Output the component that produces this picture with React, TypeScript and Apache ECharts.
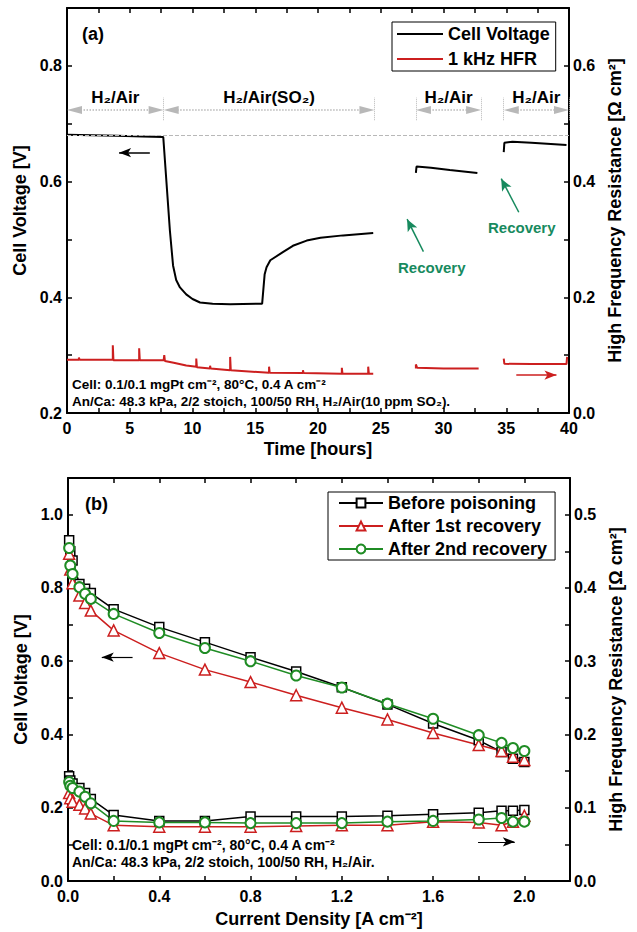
import React, { useEffect, useRef } from 'react';
import * as echarts from 'echarts';

const FONT = '"Liberation Sans", Arial, Helvetica, sans-serif';
const BLACK = '#000000';
const RED = '#cc1f1f';
const GREEN = '#1f8c24';
const ARROW_GREEN = '#178a5e';
const GRAY = '#b8b8b8';

// ---------- Panel (a): time series ----------
const voltageSeg1: [number, number][] = [
  [0, 0.681], [2, 0.68], [4, 0.679], [6, 0.678], [7.67, 0.677], [8.2, 0.515], [8.45, 0.455],
  [8.7, 0.43], [9.0, 0.417], [9.5, 0.405], [10, 0.397], [10.6, 0.391], [11.6, 0.389],
  [13, 0.388], [15.55, 0.389], [15.75, 0.44], [15.9, 0.452], [16.2, 0.464], [17.2, 0.478],
  [18, 0.489], [19.1, 0.498], [20.2, 0.503], [22, 0.507], [24.4, 0.511],
];
const voltageSeg2: [number, number][] = [
  [27.8, 0.615], [27.85, 0.626], [29, 0.624], [30.5, 0.62], [32.7, 0.615],
];
const voltageSeg3: [number, number][] = [
  [34.8, 0.651], [34.85, 0.667], [35.5, 0.669], [37, 0.667], [39.8, 0.663],
];
const hfrSeg1: [number, number][] = [
  [0, 0.092], [0.95, 0.092], [0.95, 0.096], [1.0, 0.092], [3.65, 0.092], [3.65, 0.117],
  [3.7, 0.091], [5.75, 0.091], [5.75, 0.112], [5.8, 0.091], [7.7, 0.091], [7.75, 0.1],
  [7.8, 0.09], [8.5, 0.087], [9.5, 0.082], [10.3, 0.08], [10.3, 0.094], [10.35, 0.079],
  [11.4, 0.077], [11.4, 0.0815], [11.45, 0.077], [13, 0.074], [13, 0.097], [13.05, 0.074],
  [16.1, 0.0695], [16.1, 0.08], [16.15, 0.0695], [18.8, 0.069], [18.8, 0.074], [18.85, 0.069],
  [21.9, 0.068], [21.9, 0.078], [21.95, 0.068], [24.0, 0.068], [24.0, 0.08], [24.05, 0.068],
  [24.4, 0.068],
];
const hfrSeg2: [number, number][] = [
  [27.8, 0.077], [27.8, 0.084], [27.9, 0.078], [30, 0.077], [32.8, 0.077],
];
const hfrSeg3: [number, number][] = [
  [34.8, 0.094], [34.85, 0.085], [37, 0.0845], [39.8, 0.0845], [39.85, 0.097],
];
const periodLabels = ['H₂/Air', 'H₂/Air(SO₂)', 'H₂/Air', 'H₂/Air'];
const periodStarts = [0, 7.7, 27.8, 34.8];
const periodEnds = [7.7, 24.5, 33.0, 40];
const separatorTimes = [7.7, 24.5, 27.8, 33.0, 34.8, 40];
const baselineVoltage = 0.677;
const periodLineV = 0.7236;

// ---------- Panel (b): polarization ----------
const currentDensity = [0.005, 0.01, 0.02, 0.05, 0.075, 0.1, 0.2, 0.4, 0.6, 0.8, 1.0, 1.2, 1.4, 1.6, 1.8, 1.9, 1.95, 2.0];
const vBefore = [0.93, 0.9, 0.875, 0.811, 0.798, 0.786, 0.742, 0.693, 0.652, 0.611, 0.572, 0.529, 0.482, 0.43, 0.384, 0.352, 0.334, 0.325];
const vAfter1 = [0.893, 0.85, 0.813, 0.779, 0.759, 0.738, 0.684, 0.622, 0.577, 0.543, 0.507, 0.473, 0.441, 0.404, 0.371, 0.355, 0.339, 0.33];
const vAfter2 = [0.909, 0.861, 0.838, 0.802, 0.784, 0.77, 0.729, 0.677, 0.636, 0.6, 0.561, 0.528, 0.484, 0.443, 0.398, 0.377, 0.363, 0.355];
const rBefore = [0.143, 0.137, 0.133, 0.127, 0.12, 0.112, 0.09, 0.082, 0.082, 0.088, 0.088, 0.088, 0.089, 0.091, 0.093, 0.096, 0.096, 0.097];
const rAfter1 = [0.12, 0.113, 0.108, 0.104, 0.099, 0.092, 0.076, 0.074, 0.074, 0.074, 0.075, 0.076, 0.076, 0.081, 0.08, 0.076, 0.081, 0.089];
const rAfter2 = [0.135, 0.13, 0.127, 0.122, 0.115, 0.106, 0.082, 0.08, 0.08, 0.079, 0.079, 0.079, 0.081, 0.082, 0.084, 0.086, 0.081, 0.081];
const seriesNames = ['Before poisoning', 'After 1st recovery', 'After 2nd recovery'];

const zip = (xs: number[], ys: number[]) => xs.map((x, i) => [x, ys[i]]);
const joinSegs = (...segs: [number, number][][]) => {
  const out: any[] = [];
  segs.forEach((s, i) => {
    if (i > 0) out.push([(segs[i - 1][segs[i - 1].length - 1][0] + s[0][0]) / 2, '-']);
    out.push(...s);
  });
  return out;
};

const fmtEvenTenth = (v: number) => {
  const k = Math.round(v * 10);
  return k % 2 === 0 ? (k / 10).toFixed(1) : '';
};
const fmtTenthOf005 = (v: number) => {
  const k = Math.round(v * 100);
  return k % 10 === 0 ? (k / 100).toFixed(1) : '';
};
const fmtTime = (v: number) => (Math.abs(v / 5 - Math.round(v / 5)) < 1e-6 ? String(Math.round(v)) : '');
const fmtCurrent = (v: number) => {
  const k = Math.round(v * 10);
  return k % 4 === 0 ? (k / 10).toFixed(1) : '';
};

const labelStyle = { color: BLACK, fontSize: 16, fontWeight: 'bold', fontFamily: FONT };
const nameStyle = { color: BLACK, fontSize: 18, fontWeight: 'bold', fontFamily: FONT };

const axisBase = (extra: any) => ({
  type: 'value',
  axisLine: { show: true, onZero: false, lineStyle: { color: BLACK, width: 2 } },
  axisTick: { show: true, inside: true, length: 5, lineStyle: { color: BLACK, width: 1.5 } },
  splitLine: { show: false },
  axisLabel: { ...labelStyle },
  nameTextStyle: { ...nameStyle },
  ...extra,
});

export default function App() {
  const ref = useRef<HTMLDivElement>(null);
  useEffect(() => {
    if (!ref.current) return;
    const chart = echarts.init(ref.current, undefined, { renderer: 'svg' });

    const periodMarks = periodLabels.map((lab, i) => [
      {
        coord: [periodStarts[i] + 0.6, periodLineV],
        symbol: 'triangle',
        symbolSize: [8, 15],
        lineStyle: { color: GRAY, type: 'dotted', width: 1.5 },
        itemStyle: { color: GRAY },
        label: {
          show: true,
          position: 'insideMiddleTop',
          distance: 4,
          formatter: lab,
          color: BLACK,
          fontSize: 17,
          fontWeight: 'bold',
          fontFamily: FONT,
        },
      },
      { coord: [periodEnds[i] - 0.6, periodLineV], symbol: 'triangle', symbolSize: [8, 15] },
    ]);
    const sepMarks = separatorTimes.map((t) => [
      { coord: [t, 0.706], symbol: 'none', lineStyle: { color: GRAY, type: 'dotted', width: 1 } },
      { coord: [t, 0.745], symbol: 'none' },
    ]);

    const option: any = {
      animation: false,
      backgroundColor: '#ffffff',
      textStyle: { fontFamily: FONT },
      grid: [
        { left: 67, top: 8, width: 502, height: 405 },
        { left: 68, top: 478, width: 502, height: 403 },
      ],
      xAxis: [
        axisBase({
          gridIndex: 0, min: 0, max: 40, interval: 2.5, position: 'bottom',
          axisLabel: { ...labelStyle, margin: 7, formatter: fmtTime },
          name: 'Time [hours]', nameLocation: 'middle', nameGap: 27,
        }),
        axisBase({ gridIndex: 0, min: 0, max: 40, interval: 2.5, position: 'top', axisLabel: { show: false } }),
        axisBase({
          gridIndex: 1, min: 0, max: 2.2, interval: 0.2, position: 'bottom',
          axisLabel: { ...labelStyle, margin: 7, formatter: fmtCurrent },
          name: 'Current Density [A cm⁻²]', nameLocation: 'middle', nameGap: 29,
        }),
        axisBase({ gridIndex: 1, min: 0, max: 2.2, interval: 0.2, position: 'top', axisLabel: { show: false } }),
      ],
      yAxis: [
        axisBase({
          gridIndex: 0, min: 0.2, max: 0.9, interval: 0.1, position: 'left',
          axisLabel: { ...labelStyle, margin: 5, formatter: fmtEvenTenth },
          name: 'Cell Voltage [V]', nameLocation: 'middle', nameGap: 34,
        }),
        axisBase({
          gridIndex: 0, min: 0, max: 0.7, interval: 0.1, position: 'right',
          axisLabel: { ...labelStyle, margin: 4, formatter: fmtEvenTenth },
          name: 'High Frequency Resistance [Ω cm²]', nameLocation: 'middle', nameGap: 37,
        }),
        axisBase({
          gridIndex: 1, min: 0, max: 1.1, interval: 0.1, position: 'left',
          axisLabel: { ...labelStyle, margin: 5, formatter: fmtEvenTenth },
          name: 'Cell Voltage [V]', nameLocation: 'middle', nameGap: 34,
        }),
        axisBase({
          gridIndex: 1, min: 0, max: 0.55, interval: 0.05, position: 'right',
          axisLabel: { ...labelStyle, margin: 4, formatter: fmtTenthOf005 },
          name: 'High Frequency Resistance [Ω cm²]', nameLocation: 'middle', nameGap: 37,
        }),
      ],
      legend: [
        {
          data: [
            { name: 'Cell Voltage', icon: 'rect' },
            { name: '1 kHz HFR', icon: 'rect' },
          ],
          orient: 'vertical', left: 392, top: 22,
          itemWidth: 46, itemHeight: 2, itemGap: 7,
          padding: [3, 6, 3, 5],
          borderColor: BLACK, borderWidth: 1, backgroundColor: '#fff',
          textStyle: { ...nameStyle },
          selectedMode: false,
        },
        {
          data: seriesNames,
          orient: 'vertical', left: 328, top: 492,
          itemWidth: 44, itemHeight: 11, itemGap: 5,
          padding: [2, 8, 2, 10],
          borderColor: BLACK, borderWidth: 1, backgroundColor: '#fff',
          textStyle: { ...nameStyle },
          selectedMode: false,
        },
      ],
      series: [
        {
          name: 'Cell Voltage', type: 'line', xAxisIndex: 0, yAxisIndex: 0,
          data: joinSegs(voltageSeg1, voltageSeg2, voltageSeg3),
          symbol: 'none', connectNulls: false,
          lineStyle: { color: BLACK, width: 2 }, itemStyle: { color: BLACK },
          markLine: {
            silent: true, symbol: 'none', label: { show: false },
            lineStyle: { color: GRAY, type: 'dashed', width: 1 },
            data: [
              { yAxis: baselineVoltage, lineStyle: { color: GRAY, type: 'dashed', width: 1 } },
              ...periodMarks,
              ...sepMarks,
              [
                { coord: [6.6, 0.65], symbol: 'none', lineStyle: { color: BLACK, type: 'solid', width: 1.5 } },
                { coord: [4.15, 0.65], symbol: 'arrow', symbolSize: [7, 12], itemStyle: { color: BLACK } },
              ],
              [
                { coord: [28.4, 0.479], symbol: 'none', lineStyle: { color: ARROW_GREEN, type: 'solid', width: 1.5 }, itemStyle: { color: ARROW_GREEN } },
                { coord: [27.1, 0.535], symbol: 'arrow', symbolSize: [8, 12], itemStyle: { color: ARROW_GREEN } },
              ],
              [
                { coord: [36.0, 0.547], symbol: 'none', lineStyle: { color: ARROW_GREEN, type: 'solid', width: 1.5 }, itemStyle: { color: ARROW_GREEN } },
                { coord: [34.6, 0.605], symbol: 'arrow', symbolSize: [8, 12], itemStyle: { color: ARROW_GREEN } },
              ],
            ],
          },
        },
        {
          name: '1 kHz HFR', type: 'line', xAxisIndex: 0, yAxisIndex: 1,
          data: joinSegs(hfrSeg1, hfrSeg2, hfrSeg3),
          symbol: 'none', connectNulls: false,
          lineStyle: { color: RED, width: 2 }, itemStyle: { color: RED },
          markLine: {
            silent: true, symbol: 'none', label: { show: false },
            data: [
              [
                { coord: [35.8, 0.0655], symbol: 'none', lineStyle: { color: RED, type: 'solid', width: 1.5 } },
                { coord: [39.0, 0.0655], symbol: 'arrow', symbolSize: [7, 12], itemStyle: { color: RED } },
              ],
            ],
          },
        },
        // Panel (b) voltages
        {
          name: seriesNames[0], type: 'line', xAxisIndex: 2, yAxisIndex: 2,
          data: zip(currentDensity, vBefore), symbol: 'rect', symbolSize: 9,
          lineStyle: { color: BLACK, width: 1.5 },
          itemStyle: { color: '#fff', borderColor: BLACK, borderWidth: 1.5 },
          markLine: {
            silent: true, symbol: 'none', label: { show: false },
            data: [[
              { coord: [0.283, 0.611], symbol: 'none', lineStyle: { color: BLACK, type: 'solid', width: 1.2 } },
              { coord: [0.148, 0.611], symbol: 'arrow', symbolSize: [7, 12], itemStyle: { color: BLACK } },
            ]],
          },
        },
        {
          name: seriesNames[1], type: 'line', xAxisIndex: 2, yAxisIndex: 2,
          data: zip(currentDensity, vAfter1), symbol: 'triangle', symbolSize: 11,
          lineStyle: { color: RED, width: 1.5 },
          itemStyle: { color: '#fff', borderColor: RED, borderWidth: 1.5 },
        },
        {
          name: seriesNames[2], type: 'line', xAxisIndex: 2, yAxisIndex: 2,
          data: zip(currentDensity, vAfter2), symbol: 'circle', symbolSize: 10,
          lineStyle: { color: GREEN, width: 1.5 },
          itemStyle: { color: '#fff', borderColor: GREEN, borderWidth: 2 },
        },
        // Panel (b) HFR
        {
          name: seriesNames[0], type: 'line', xAxisIndex: 2, yAxisIndex: 3,
          data: zip(currentDensity, rBefore), symbol: 'rect', symbolSize: 9,
          lineStyle: { color: BLACK, width: 1.5 },
          itemStyle: { color: '#fff', borderColor: BLACK, borderWidth: 1.5 },
          markLine: {
            silent: true, symbol: 'none', label: { show: false },
            data: [[
              { coord: [1.797, 0.0535], symbol: 'none', lineStyle: { color: BLACK, type: 'solid', width: 1.2 } },
              { coord: [1.958, 0.0535], symbol: 'arrow', symbolSize: [7, 12], itemStyle: { color: BLACK } },
            ]],
          },
        },
        {
          name: seriesNames[1], type: 'line', xAxisIndex: 2, yAxisIndex: 3,
          data: zip(currentDensity, rAfter1), symbol: 'triangle', symbolSize: 11,
          lineStyle: { color: RED, width: 1.5 },
          itemStyle: { color: '#fff', borderColor: RED, borderWidth: 1.5 },
        },
        {
          name: seriesNames[2], type: 'line', xAxisIndex: 2, yAxisIndex: 3,
          data: zip(currentDensity, rAfter2), symbol: 'circle', symbolSize: 10,
          lineStyle: { color: GREEN, width: 1.5 },
          itemStyle: { color: '#fff', borderColor: GREEN, borderWidth: 2 },
        },
      ],
      graphic: [
        { type: 'text', left: 82, top: 25, style: { text: '(a)', fill: BLACK, font: `bold 18px ${FONT}` } },
        { type: 'text', left: 85, top: 495, style: { text: '(b)', fill: BLACK, font: `bold 18px ${FONT}` } },
        { type: 'text', left: 72, top: 377, style: { text: 'Cell: 0.1/0.1 mgPt cm⁻², 80°C, 0.4 A cm⁻²', fill: BLACK, font: `bold 13.5px ${FONT}` } },
        { type: 'text', left: 72, top: 394, style: { text: 'An/Ca: 48.3 kPa, 2/2 stoich, 100/50 RH, H₂/Air(10 ppm SO₂).', fill: BLACK, font: `bold 13.5px ${FONT}` } },
        { type: 'text', left: 72, top: 838, style: { text: 'Cell: 0.1/0.1 mgPt cm⁻², 80°C, 0.4 A cm⁻²', fill: BLACK, font: `bold 14px ${FONT}` } },
        { type: 'text', left: 72, top: 855, style: { text: 'An/Ca: 48.3 kPa, 2/2 stoich, 100/50 RH, H₂/Air.', fill: BLACK, font: `bold 14px ${FONT}` } },
        { type: 'text', left: 398, top: 260, style: { text: 'Recovery', fill: ARROW_GREEN, font: `bold 15px ${FONT}` } },
        { type: 'text', left: 488, top: 220, style: { text: 'Recovery', fill: ARROW_GREEN, font: `bold 15px ${FONT}` } },
      ],
    };
    chart.setOption(option);
    return () => chart.dispose();
  }, []);
  return (
    <div
      ref={ref}
      style={{ position: 'fixed', left: 0, top: 0, width: 637, height: 932, background: '#fff' }}
    />
  );
}
